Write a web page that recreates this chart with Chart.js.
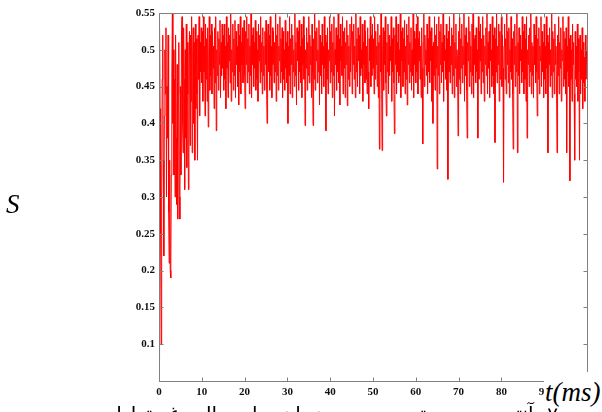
<!DOCTYPE html>
<html>
<head>
<meta charset="utf-8">
<script src="https://cdn.jsdelivr.net/npm/chart.js@4.4.1/dist/chart.umd.min.js"></script>
<style>
  html, body { margin: 0; padding: 0; background: #fff; overflow: hidden; }
  #wrap { position: relative; width: 602px; height: 412px; overflow: hidden; }
  #cover { position: absolute; left: 544px; top: 372px; width: 58px; height: 40px; background: #fff; }
  #tlabel { position: absolute; left: 545px; top: 377px; font: italic 27px "Liberation Serif", serif; color: #000; white-space: nowrap; }
  #caption { position: absolute; right: 44px; top: 404px; font: 20px "DejaVu Sans", sans-serif; line-height: 20px; direction: rtl; white-space: nowrap; color: #000; }
</style>
</head>
<body>
<div id="wrap">
  <canvas id="chart" width="602" height="412"></canvas>
  <div id="cover"></div>
  <div id="tlabel">t(ms)</div>
  <div id="caption">۷- آنتروپی سیستم بر حسب زمان برای حالت غیرتعادلی</div>
</div>
<script>
// sampling step of the trace, ms
const tStep = 0.125;

// S(t), every 0.125 ms (two lines = 5 ms)
const sValues = [
  0.08, 0.53, 0.42, 0.25, 0.10, 0.30, 0.46, 0.52, 0.35, 0.22, 0.41, 0.50, 0.44, 0.53, 0.30, 0.45, 0.38, 0.52, 0.28, 0.21,
  0.35, 0.20, 0.19, 0.33, 0.47, 0.55, 0.40, 0.50, 0.33, 0.46, 0.30, 0.52, 0.38, 0.29, 0.48, 0.27, 0.44, 0.51, 0.30, 0.27,
  0.45, 0.33, 0.52, 0.545, 0.40, 0.36, 0.53, 0.46, 0.31, 0.50, 0.38, 0.535, 0.34, 0.51, 0.44, 0.31, 0.49, 0.525, 0.37, 0.52,
  0.43, 0.545, 0.36, 0.50, 0.53, 0.40, 0.51, 0.35, 0.535, 0.42, 0.515, 0.44, 0.35, 0.52, 0.46, 0.545, 0.41, 0.51, 0.47, 0.53,
  0.455, 0.525, 0.43, 0.545, 0.47, 0.505, 0.41, 0.535, 0.46, 0.515, 0.43, 0.53, 0.395, 0.49, 0.545, 0.445, 0.52, 0.465, 0.535, 0.44,
  0.525, 0.475, 0.505, 0.42, 0.53, 0.455, 0.545, 0.39, 0.50, 0.465, 0.525, 0.445, 0.515, 0.48, 0.54, 0.435, 0.51, 0.465, 0.535, 0.475,
  0.52, 0.445, 0.535, 0.46, 0.505, 0.42, 0.545, 0.475, 0.51, 0.435, 0.53, 0.485, 0.52, 0.455, 0.55, 0.43, 0.50, 0.47, 0.535, 0.445,
  0.515, 0.465, 0.54, 0.435, 0.525, 0.48, 0.505, 0.45, 0.535, 0.425, 0.52, 0.47, 0.545, 0.44, 0.51, 0.48, 0.53, 0.455, 0.50, 0.54,
  0.465, 0.42, 0.525, 0.48, 0.545, 0.455, 0.515, 0.47, 0.535, 0.44, 0.505, 0.465, 0.55, 0.435, 0.52, 0.48, 0.53, 0.45, 0.51, 0.475,
  0.54, 0.445, 0.525, 0.46, 0.50, 0.43, 0.535, 0.485, 0.52, 0.455, 0.545, 0.47, 0.51, 0.44, 0.53, 0.465, 0.505, 0.445, 0.525, 0.48,
  0.54, 0.455, 0.40, 0.515, 0.535, 0.47, 0.52, 0.445, 0.545, 0.465, 0.505, 0.435, 0.53, 0.48, 0.525, 0.455, 0.51, 0.47, 0.55, 0.43,
  0.52, 0.465, 0.535, 0.445, 0.505, 0.485, 0.545, 0.455, 0.515, 0.47, 0.53, 0.435, 0.525, 0.46, 0.50, 0.445, 0.54, 0.475, 0.51, 0.455,
  0.525, 0.40, 0.505, 0.465, 0.545, 0.44, 0.515, 0.48, 0.535, 0.435, 0.52, 0.47, 0.50, 0.45, 0.55, 0.465, 0.51, 0.425, 0.53, 0.485,
  0.525, 0.445, 0.54, 0.47, 0.505, 0.455, 0.535, 0.435, 0.515, 0.48, 0.545, 0.46, 0.52, 0.397, 0.50, 0.475, 0.53, 0.445, 0.51, 0.465,
  0.545, 0.455, 0.52, 0.48, 0.505, 0.435, 0.535, 0.47, 0.397, 0.515, 0.46, 0.55, 0.445, 0.525, 0.485, 0.53, 0.455, 0.50, 0.47, 0.54,
  0.425, 0.52, 0.465, 0.51, 0.44, 0.535, 0.48, 0.505, 0.45, 0.545, 0.475, 0.52, 0.39, 0.51, 0.46, 0.53, 0.44, 0.50, 0.485, 0.545,
  0.455, 0.525, 0.47, 0.535, 0.435, 0.51, 0.465, 0.545, 0.41, 0.50, 0.48, 0.53, 0.445, 0.52, 0.47, 0.55, 0.455, 0.515, 0.425, 0.535,
  0.485, 0.505, 0.465, 0.545, 0.44, 0.525, 0.475, 0.53, 0.435, 0.51, 0.48, 0.54, 0.424, 0.52, 0.46, 0.505, 0.45, 0.535, 0.47, 0.515,
  0.545, 0.44, 0.525, 0.48, 0.535, 0.46, 0.505, 0.435, 0.55, 0.47, 0.515, 0.45, 0.53, 0.485, 0.52, 0.44, 0.545, 0.465, 0.50, 0.475,
  0.535, 0.43, 0.51, 0.48, 0.54, 0.455, 0.525, 0.46, 0.505, 0.44, 0.53, 0.47, 0.42, 0.515, 0.485, 0.545, 0.45, 0.52, 0.465, 0.535,
  0.475, 0.515, 0.44, 0.545, 0.46, 0.525, 0.48, 0.505, 0.45, 0.535, 0.435, 0.51, 0.365, 0.52, 0.47, 0.55, 0.465, 0.363, 0.50, 0.53,
  0.445, 0.525, 0.48, 0.545, 0.455, 0.41, 0.51, 0.47, 0.535, 0.44, 0.52, 0.465, 0.505, 0.485, 0.545, 0.43, 0.515, 0.47, 0.53, 0.455,
  0.386, 0.52, 0.48, 0.545, 0.44, 0.51, 0.47, 0.535, 0.455, 0.50, 0.465, 0.55, 0.435, 0.525, 0.485, 0.53, 0.45, 0.515, 0.47, 0.54,
  0.44, 0.505, 0.46, 0.535, 0.425, 0.52, 0.48, 0.545, 0.455, 0.51, 0.47, 0.53, 0.445, 0.50, 0.465, 0.55, 0.435, 0.525, 0.48, 0.515,
  0.455, 0.535, 0.47, 0.545, 0.44, 0.515, 0.485, 0.525, 0.46, 0.505, 0.435, 0.53, 0.475, 0.372, 0.51, 0.55, 0.45, 0.52, 0.48, 0.50,
  0.465, 0.535, 0.44, 0.515, 0.47, 0.545, 0.455, 0.525, 0.485, 0.53, 0.43, 0.505, 0.40, 0.51, 0.465, 0.545, 0.445, 0.52, 0.475, 0.535,
  0.338, 0.505, 0.465, 0.545, 0.44, 0.525, 0.48, 0.535, 0.455, 0.51, 0.47, 0.55, 0.43, 0.52, 0.485, 0.50, 0.46, 0.535, 0.445, 0.515,
  0.324, 0.525, 0.47, 0.545, 0.455, 0.505, 0.48, 0.53, 0.44, 0.52, 0.465, 0.55, 0.435, 0.51, 0.475, 0.535, 0.45, 0.50, 0.485, 0.383,
  0.525, 0.46, 0.545, 0.44, 0.515, 0.475, 0.535, 0.455, 0.505, 0.48, 0.55, 0.43, 0.52, 0.465, 0.53, 0.445, 0.38, 0.51, 0.485, 0.545,
  0.45, 0.525, 0.47, 0.505, 0.44, 0.535, 0.465, 0.55, 0.435, 0.515, 0.48, 0.52, 0.455, 0.53, 0.47, 0.50, 0.38, 0.545, 0.46, 0.525,
  0.485, 0.535, 0.44, 0.515, 0.47, 0.545, 0.455, 0.52, 0.43, 0.505, 0.48, 0.53, 0.465, 0.55, 0.44, 0.51, 0.475, 0.525, 0.435, 0.535,
  0.485, 0.50, 0.45, 0.545, 0.465, 0.52, 0.44, 0.53, 0.374, 0.515, 0.47, 0.55, 0.455, 0.505, 0.48, 0.535, 0.43, 0.525, 0.46, 0.51,
  0.545, 0.45, 0.52, 0.475, 0.32, 0.505, 0.535, 0.46, 0.515, 0.44, 0.55, 0.48, 0.525, 0.455, 0.53, 0.435, 0.50, 0.47, 0.545, 0.46,
  0.515, 0.44, 0.365, 0.525, 0.48, 0.535, 0.45, 0.505, 0.47, 0.55, 0.36, 0.51, 0.465, 0.53, 0.44, 0.52, 0.485, 0.50, 0.455, 0.545,
  0.47, 0.525, 0.44, 0.535, 0.46, 0.515, 0.43, 0.545, 0.38, 0.50, 0.48, 0.52, 0.45, 0.53, 0.47, 0.55, 0.44, 0.51, 0.465, 0.505,
  0.435, 0.535, 0.48, 0.52, 0.455, 0.545, 0.47, 0.41, 0.515, 0.46, 0.53, 0.44, 0.505, 0.485, 0.545, 0.45, 0.525, 0.47, 0.51, 0.435,
  0.535, 0.46, 0.505, 0.44, 0.545, 0.475, 0.52, 0.36, 0.51, 0.48, 0.53, 0.45, 0.50, 0.465, 0.55, 0.435, 0.525, 0.47, 0.515, 0.44,
  0.535, 0.48, 0.505, 0.455, 0.36, 0.52, 0.465, 0.545, 0.44, 0.51, 0.475, 0.53, 0.43, 0.50, 0.485, 0.545, 0.45, 0.525, 0.46, 0.515,
  0.44, 0.53, 0.36, 0.505, 0.47, 0.545, 0.45, 0.515, 0.322, 0.52, 0.46, 0.50, 0.43, 0.535, 0.48, 0.51, 0.44, 0.35, 0.525, 0.46,
  0.505, 0.45, 0.535, 0.43, 0.515, 0.47, 0.35, 0.52, 0.44, 0.50, 0.46, 0.53, 0.42, 0.51, 0.455, 0.49, 0.43, 0.52, 0.46, 0.50,
  0.48
];

const xTickValues = [0, 10, 20, 30, 40, 50, 60, 70, 80, 90, 100];
const yTickValues = [0.05, 0.1, 0.15, 0.2, 0.25, 0.3, 0.35, 0.4, 0.45, 0.5, 0.55];

const points = sValues.map((s, i) => ({ x: i * tStep, y: s }));

const tickFont = { family: '"Liberation Serif", serif', size: 11, weight: 'bold' };

// matlab style box with inward ticks on all four sides
const axisBox = {
  id: 'axisBox',
  afterDraw(chart) {
    const { ctx, chartArea: { left, right, top, bottom }, scales: { x, y } } = chart;
    ctx.save();
    ctx.strokeStyle = '#808080';
    ctx.lineWidth = 1;
    const l = Math.round(left) + 0.5, r = Math.round(right) + 0.5;
    const t = Math.round(top) + 0.5, b = Math.round(bottom) + 0.5;
    ctx.beginPath();
    ctx.rect(l, t, r - l, b - t);
    xTickValues.forEach(v => {
      const px = Math.round(x.getPixelForValue(v)) + 0.5;
      ctx.moveTo(px, b); ctx.lineTo(px, b - 4);
      ctx.moveTo(px, t); ctx.lineTo(px, t + 4);
    });
    yTickValues.forEach(v => {
      const py = Math.round(y.getPixelForValue(v)) + 0.5;
      ctx.moveTo(l, py); ctx.lineTo(l + 4, py);
      ctx.moveTo(r, py); ctx.lineTo(r - 4, py);
    });
    ctx.stroke();
    ctx.fillStyle = '#000';
    ctx.font = 'italic 27px "Liberation Serif", serif';
    ctx.textBaseline = 'alphabetic';
    ctx.fillText('S', 6, 213);
    ctx.restore();
  }
};

new Chart(document.getElementById('chart').getContext('2d'), {
  type: 'line',
  data: {
    datasets: [{
      data: points,
      borderColor: 'rgb(255, 0, 0)',
      borderWidth: 1,
      pointRadius: 0,
      tension: 0,
      fill: false
    }]
  },
  options: {
    responsive: false,
    animation: false,
    events: [],
    layout: { padding: { top: 13, right: 15, left: 0, bottom: 0 } },
    plugins: { legend: { display: false }, tooltip: { enabled: false } },
    scales: {
      x: {
        type: 'linear',
        min: 0,
        max: 100,
        afterFit: s => { s.height = 31; },
        afterBuildTicks: s => { s.ticks = xTickValues.map(v => ({ value: v })); },
        grid: { display: false, drawTicks: false },
        border: { display: false },
        ticks: { font: tickFont, color: '#111', padding: 5, maxRotation: 0, callback: v => String(v) }
      },
      y: {
        min: 0.05,
        max: 0.55,
        afterFit: s => { s.width = 159; },
        afterBuildTicks: s => { s.ticks = yTickValues.map(v => ({ value: v })); },
        grid: { display: false, drawTicks: false },
        border: { display: false },
        ticks: { font: tickFont, color: '#111', padding: 4, callback: v => v < 0.07 ? '' : String(+v.toFixed(2)) }
      }
    }
  },
  plugins: [axisBox]
});
</script>
</body>
</html>
